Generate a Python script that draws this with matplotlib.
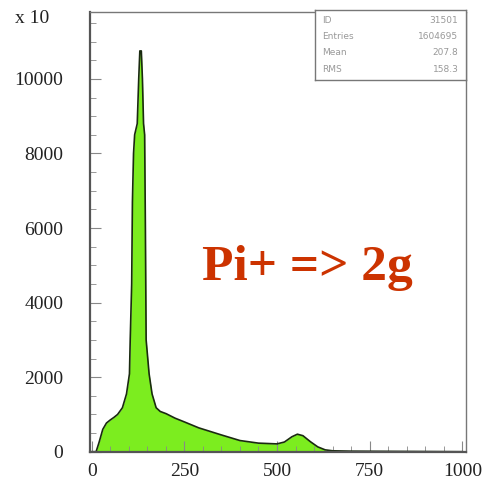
import matplotlib
matplotlib.use("Agg")
import matplotlib.pyplot as plt
from matplotlib.ticker import MultipleLocator

# Histogram contour
x_vals = [0, 12, 20, 30, 40, 50, 60, 70, 83, 94, 102, 104, 108, 110, 113, 116,
          123, 127, 130, 134, 137, 140, 143, 145, 147, 155, 163, 174, 185, 201, 225,
          250, 289, 350, 400, 450, 500, 520, 540, 555, 570, 590, 610, 630, 650,
          700, 800, 900, 1000]
counts = [0, 0, 250, 600, 770, 850, 920, 1000, 1180, 1550, 2090, 2980, 4500, 6700,
          8000, 8500, 8800, 10000, 10750, 10750, 10000, 8800, 8500, 6000, 3000, 2090,
          1550, 1180, 1080, 1020, 900, 800, 640, 450, 300, 230, 210, 260, 400, 470,
          430, 270, 130, 50, 25, 15, 10, 5, 0]

x_ticks = [0, 250, 500, 750, 1000]
y_ticks = [0, 2000, 4000, 6000, 8000, 10000]
stat_names = ["ID", "Entries", "Mean", "RMS"]
stat_values = ["31501", "1604695", "207.8", "158.3"]
title_text = "Pi+ => 2g"

serif = ["Liberation Serif", "DejaVu Serif"]

fig = plt.figure(figsize=(4.88, 4.91), dpi=100)
ax = fig.add_axes([0.184, 0.080, 0.771, 0.896])

ax.fill_between(x_vals, counts, color="#7ced1f", linewidth=0)
ax.plot(x_vals, counts, color="#1a2a10", linewidth=1.2)

ax.set_xlim(-5, 1010)
ax.set_ylim(0, 11800)
ax.set_xticks(x_ticks)
ax.set_yticks(y_ticks)
ax.xaxis.set_minor_locator(MultipleLocator(50))
ax.yaxis.set_minor_locator(MultipleLocator(500))
ax.tick_params(which="both", direction="in", colors="#888888", labelcolor="#222222")
ax.tick_params(which="major", length=8, width=0.8)
ax.tick_params(which="minor", length=4, width=0.6)
ax.tick_params(axis="both", labelsize=14)
ax.tick_params(axis="y", pad=19)
ax.tick_params(axis="x", pad=8)
for lab in ax.get_xticklabels() + ax.get_yticklabels():
    lab.set_family(serif)

for s in ["left", "bottom"]:
    ax.spines[s].set_color("#555555")
    ax.spines[s].set_linewidth(1.6)
for s in ["top", "right"]:
    ax.spines[s].set_color("#777777")
    ax.spines[s].set_linewidth(1.0)

fig.text(0.031, 0.962, "x 10", fontsize=14, family=serif, color="#222222",
         ha="left", va="center")

# Stat box
box_ax = fig.add_axes([0.645, 0.837, 0.31, 0.142])
box_ax.set_xticks([])
box_ax.set_yticks([])
for s in box_ax.spines.values():
    s.set_color("#777777")
    s.set_linewidth(1.0)
for i, (n, v) in enumerate(zip(stat_names, stat_values)):
    yy = 0.86 - i * 0.235
    box_ax.text(0.05, yy, n, fontsize=6.5, color="#999999", va="center", ha="left")
    box_ax.text(0.95, yy, v, fontsize=6.5, color="#999999", va="center", ha="right")

fig.text(0.63, 0.455, title_text, fontsize=37, fontweight="bold", family=serif,
         color="#cc3300", ha="center", va="center")

fig.savefig("out.png", dpi=100)
